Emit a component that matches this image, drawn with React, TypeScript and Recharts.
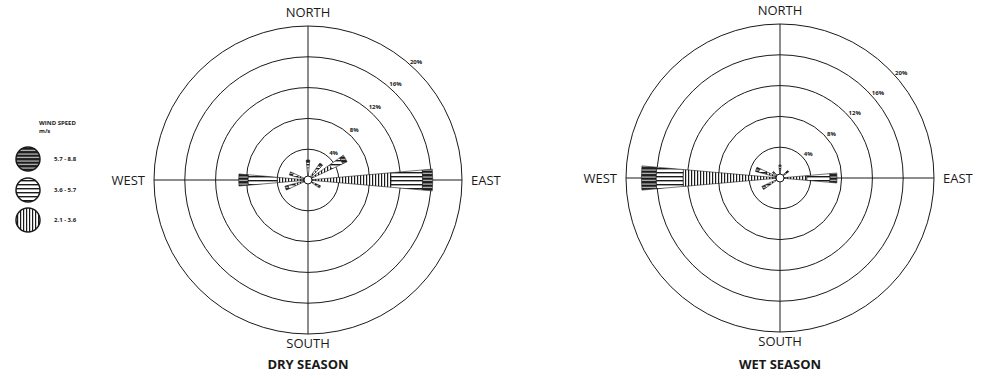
import React from 'react';
import { RadialBarChart, RadialBar, PolarGrid, PolarAngleAxis, PolarRadiusAxis } from 'recharts';

// 36 sectors, 10 degrees each, clockwise from north
const directions = [
  0, 10, 20, 30, 40, 50, 60, 70, 80, 90, 100, 110,
  120, 130, 140, 150, 160, 170, 180, 190, 200, 210, 220, 230,
  240, 250, 260, 270, 280, 290, 300, 310, 320, 330, 340, 350,
];
const compassLabels: Record<number, string> = { 0: 'NORTH', 90: 'EAST', 180: 'SOUTH', 270: 'WEST' };
const ringTicks = [4, 8, 12, 16, 20];
const speedBins = ['2.1 - 3.6', '3.6 - 5.7', '5.7 - 8.8'];

// frequency (%) per speed class, dry season
const dryLow = [
  1.6, 0, 0, 0, 1.5, 0, 3.4, 0, 0, 10.8, 0, 0,
  1.2, 0, 0, 0, 0, 0, 0, 0, 0, 0, 0, 0,
  0, 1.8, 0, 4.0, 0, 1.4, 0, 0, 0, 0, 0, 0,
];
const dryMid = [
  0.7, 0, 0, 0, 0.8, 0, 1.6, 0, 0, 4.1, 0, 0,
  0.4, 0, 0, 0, 0, 0, 0, 0, 0, 0, 0, 0,
  0, 0.9, 0, 3.8, 0, 0.7, 0, 0, 0, 0, 0, 0,
];
const dryHigh = [
  0.3, 0, 0, 0, 0.4, 0, 0.6, 0, 0, 1.3, 0, 0,
  0.2, 0, 0, 0, 0, 0, 0, 0, 0, 0, 0, 0,
  0, 0.4, 0, 1.2, 0, 0.4, 0, 0, 0, 0, 0, 0,
];

// wet season
const wetLow = [
  1.0, 0, 0, 0, 0, 0.8, 0, 0, 0, 3.5, 0, 0,
  0, 0, 0, 0, 0, 0, 0, 0, 0, 0, 0, 0,
  1.5, 0, 0, 12.6, 0, 2.0, 0, 0.7, 0, 0, 0, 0,
];
const wetMid = [
  0.5, 0, 0, 0, 0, 0.4, 0, 0, 0, 3.0, 0, 0,
  0, 0, 0, 0, 0, 0, 0, 0, 0, 0, 0, 0,
  0.7, 0, 0, 3.5, 0, 0.9, 0, 0.3, 0, 0, 0, 0,
];
const wetHigh = [
  0.2, 0, 0, 0, 0, 0.2, 0, 0, 0, 0.9, 0, 0,
  0, 0, 0, 0, 0, 0, 0, 0, 0, 0, 0, 0,
  0.4, 0, 0, 1.9, 0, 0.4, 0, 0.2, 0, 0, 0, 0,
];

const FONT = '"Open Sans", sans-serif';
const INK = '#1a1a1a';
const patternIds = ['spdLow', 'spdMid', 'spdHigh'];
const HALF_BIN = 180 / directions.length;
const RAD = Math.PI / 180;

function buildRows(low: number[], mid: number[], high: number[]) {
  return directions.map((dir, i) => ({ dir, low: low[i], mid: mid[i], high: high[i] }));
}

// bars sit CCW from their tick, so the tick angle is half a bin off the sector centre
function CompassTick(props: any) {
  const { payload, cx, cy, radius } = props;
  const label = compassLabels[payload.value];
  if (!label) return null;
  const ang = (payload.coordinate + HALF_BIN) * RAD;
  const r = radius + 9;
  const x = cx + r * Math.cos(ang);
  const y = cy - r * Math.sin(ang);
  let anchor = 'middle';
  let dy = '0.35em';
  if (label === 'NORTH') dy = '0em';
  if (label === 'SOUTH') dy = '0.4em';
  if (label === 'EAST') anchor = 'start';
  if (label === 'WEST') anchor = 'end';
  return (
    <text x={x} y={y} dy={dy} textAnchor={anchor} fontSize={13} fill={INK} fontFamily={FONT}>
      {label}
    </text>
  );
}

function RingTick(props: any) {
  const { x, y, payload } = props;
  return (
    <text x={x + 5} y={y - 4} textAnchor="middle" dominantBaseline="central" fontSize={6} fontWeight={700} fill={INK} fontFamily={FONT}>
      {payload.value}%
    </text>
  );
}

function WindLegend() {
  const order = [2, 1, 0];
  return (
    <div style={{ position: 'absolute', left: 14, top: 119, fontFamily: FONT, color: INK }}>
      <div style={{ fontSize: 6, fontWeight: 700, marginLeft: 25, lineHeight: '8px' }}>WIND SPEED</div>
      <div style={{ fontSize: 6, fontWeight: 700, marginLeft: 25, lineHeight: '8px', marginBottom: 9 }}>m/s</div>
      {order.map((k) => (
        <div key={k} style={{ display: 'flex', alignItems: 'center', height: 30.5 }}>
          <svg width={28} height={28}>
            <circle cx={14} cy={14} r={12} fill={`url(#${patternIds[k]})`} stroke={INK} strokeWidth={1.5} />
          </svg>
          <span style={{ fontSize: 6, fontWeight: 700, marginLeft: 12 }}>{speedBins[k]}</span>
        </div>
      ))}
    </div>
  );
}

function Rose({ rows, cx, cy, width, ringAngle }: any) {
  return (
    <div style={{ position: 'relative', width, height: 377 }}>
      <RadialBarChart
        width={width}
        height={377}
        data={rows}
        layout="centric"
        cx={cx}
        cy={cy}
        innerRadius={0}
        outerRadius={154}
        startAngle={90 - HALF_BIN}
        endAngle={-270 - HALF_BIN}
        barCategoryGap={0}
        barGap={0}
        margin={{ top: 0, right: 0, bottom: 0, left: 0 }}
      >
        <PolarGrid gridType="circle" polarAngles={[90, 0, -90, 180]} stroke={INK} strokeWidth={1} />
        <PolarAngleAxis dataKey="dir" type="category" axisLine={false} tickLine={false} tick={<CompassTick />} />
        <PolarRadiusAxis type="number" domain={[0, 20]} ticks={ringTicks} angle={ringAngle} axisLine={false} tickLine={false} tick={<RingTick />} />
        <RadialBar dataKey="low" stackId="s" fill="url(#spdLow)" stroke={INK} strokeWidth={0.6} isAnimationActive={false} />
        <RadialBar dataKey="mid" stackId="s" fill="url(#spdMid)" stroke={INK} strokeWidth={0.6} isAnimationActive={false} />
        <RadialBar dataKey="high" stackId="s" fill="url(#spdHigh)" stroke={INK} strokeWidth={0.6} isAnimationActive={false} />
      </RadialBarChart>
      {/* calm circle at the centre */}
      <svg width={12} height={12} style={{ position: 'absolute', left: cx - 6, top: cy - 6 }}>
        <circle cx={6} cy={6} r={4} fill="#fff" stroke={INK} strokeWidth={1} />
      </svg>
    </div>
  );
}

const titleStyle: React.CSSProperties = {
  position: 'absolute',
  top: 356,
  width: 200,
  textAlign: 'center',
  fontFamily: FONT,
  fontWeight: 700,
  fontSize: 13,
  color: INK,
  lineHeight: '16px',
};

export default function App() {
  return (
    <div style={{ position: 'absolute', left: 0, top: 0, width: 983, height: 377, background: '#fff', overflow: 'hidden' }}>
      <svg width={0} height={0} style={{ position: 'absolute' }}>
        <defs>
          <pattern id="spdLow" patternUnits="userSpaceOnUse" width={3} height={3}>
            <rect width={3} height={3} fill="#fff" />
            <rect x={0} width={1.2} height={3} fill={INK} />
          </pattern>
          <pattern id="spdMid" patternUnits="userSpaceOnUse" width={4} height={4}>
            <rect width={4} height={4} fill="#fff" />
            <rect y={0} width={4} height={1.4} fill={INK} />
          </pattern>
          <pattern id="spdHigh" patternUnits="userSpaceOnUse" width={4} height={3.5}>
            <rect width={4} height={3.5} fill={INK} />
            <rect y={1.5} width={4} height={0.9} fill="#fff" />
          </pattern>
        </defs>
      </svg>
      <div style={{ position: 'absolute', left: 0, top: 0 }}>
        <Rose rows={buildRows(dryLow, dryMid, dryHigh)} cx={308} cy={180} width={545} ringAngle={48} />
      </div>
      <div style={{ position: 'absolute', left: 490, top: 0 }}>
        <Rose rows={buildRows(wetLow, wetMid, wetHigh)} cx={290} cy={178} width={493} ringAngle={41} />
      </div>
      <WindLegend />
      <div style={{ ...titleStyle, left: 208 }}>DRY SEASON</div>
      <div style={{ ...titleStyle, left: 680 }}>WET SEASON</div>
    </div>
  );
}
